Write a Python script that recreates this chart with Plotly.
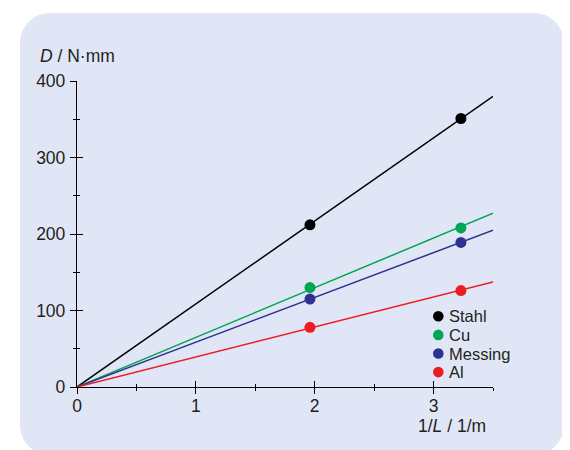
import plotly.graph_objects as go

# ---- data ----
materials = ["Stahl", "Cu", "Messing", "Al"]
colors = ["#000000", "#00A651", "#2E3192", "#ED1C24"]
inv_L = [1.96, 3.23]                 # 1/L in 1/m
D_stahl = [212, 351]                 # D in N·mm
D_cu = [130, 208]
D_messing = [115, 189]
D_al = [78, 126]
series = [D_stahl, D_cu, D_messing, D_al]
x_ticks = [0, 1, 2, 3]
y_ticks = [0, 100, 200, 300, 400]
x_range = [0, 3.5]
y_range = [0, 400]

# ---- geometry (pixels, screen coordinates; page body has an 8px margin) ----
OFF = 8
W, H = 570 - OFF, 450 - OFF
PW, PH = 416, 306
ML, MT = 77 - OFF, 81 - OFF
MR, MB = W - ML - PW, H - MT - PH
FONT = "Liberation Sans, Arial, sans-serif"
TXT = "#231F20"
FS = 17.5
FS_LEG = 16.5


def px(x):
    return (x - OFF - ML) / PW


def py(y):
    return 1 - (y - OFF - MT) / PH


fig = go.Figure()

# fitted lines through the origin
for name, col, ys in zip(materials, colors, series):
    slope = sum(a * b for a, b in zip(inv_L, ys)) / sum(a * a for a in inv_L)
    fig.add_trace(go.Scatter(x=x_range, y=[slope * v for v in x_range], mode="lines",
                             line=dict(color=col, width=1.5), showlegend=False,
                             hoverinfo="skip", cliponaxis=False))
for name, col, ys in zip(materials, colors, series):
    fig.add_trace(go.Scatter(x=inv_L, y=ys, mode="markers", name=name,
                             marker=dict(color=col, size=11), showlegend=False,
                             cliponaxis=False))

# dummy trace for overlay axes (inner tick halves)
fig.add_trace(go.Scatter(x=[None], y=[None], xaxis="x2", yaxis="y2",
                         showlegend=False, hoverinfo="skip"))

common = dict(showgrid=False, zeroline=False, color="#000000")
tk = dict(tickwidth=1.3, tickcolor="#000")
tf = dict(size=FS, color=TXT, family=FONT)
fig.update_layout(
    width=W, height=H,
    margin=dict(l=ML, r=MR, t=MT, b=MB, pad=0),
    paper_bgcolor="white", plot_bgcolor="rgba(0,0,0,0)",
    font=dict(family=FONT, size=FS, color=TXT),
    showlegend=False,
    xaxis=dict(range=x_range, tickvals=x_ticks, showline=True, linecolor="#000",
               linewidth=1.3, ticks="outside", ticklen=6, tickfont=tf, ticklabelstandoff=-3,
               minor=dict(dtick=0.5, tick0=0, ticks="outside", ticklen=3, **tk), **tk, **common),
    yaxis=dict(range=y_range, tickvals=y_ticks, showline=True, linecolor="#000",
               linewidth=1.3, ticks="outside", ticklen=6, tickfont=tf, ticklabelstandoff=1,
               minor=dict(dtick=50, tick0=0, ticks="outside", ticklen=3, **tk), **tk, **common),
    xaxis2=dict(range=x_range, overlaying="x", anchor="y", side="bottom", tickvals=x_ticks,
                ticks="inside", ticklen=6, showline=False, showticklabels=False,
                minor=dict(dtick=0.5, tick0=0, ticks="inside", ticklen=3, **tk), **tk, **common),
    yaxis2=dict(range=y_range, overlaying="y", anchor="x", side="left", tickvals=y_ticks,
                ticks="inside", ticklen=6, showline=False, showticklabels=False,
                minor=dict(dtick=50, tick0=0, ticks="inside", ticklen=3, **tk), **tk, **common),
)

# rounded background panel
L, T, R, B, r = 20, 13, 564, 455, 30
k = 0.5523 * r
pts = [
    ("M", [(L + r, T)]),
    ("L", [(R - r, T)]),
    ("C", [(R - r + k, T), (R, T + r - k), (R, T + r)]),
    ("L", [(R, B - r)]),
    ("C", [(R, B - r + k), (R - r + k, B), (R - r, B)]),
    ("L", [(L + r, B)]),
    ("C", [(L + r - k, B), (L, B - r + k), (L, B - r)]),
    ("L", [(L, T + r)]),
    ("C", [(L, T + r - k), (L + r - k, T), (L + r, T)]),
]
path = " ".join(c + " " + " ".join(f"{px(a):.5f},{py(b):.5f}" for a, b in p) for c, p in pts) + " Z"
fig.add_shape(type="path", path=path, xref="paper", yref="paper", layer="below",
              fillcolor="#E1E6F6", line=dict(width=0))

# legend (dots + labels)
leg_y = [316.3, 334.9, 353.5, 372.1]
for name, col, ly in zip(materials, colors, leg_y):
    fig.add_shape(type="circle", xref="paper", yref="paper",
                  x0=px(438.3 - 5.3), x1=px(438.3 + 5.3), y0=py(ly + 5.3), y1=py(ly - 5.3),
                  fillcolor=col, line=dict(width=0))
    fig.add_annotation(x=px(448), y=py(ly), xref="paper", yref="paper", text=name,
                       showarrow=False, xanchor="left", yanchor="middle", borderpad=0,
                       font=dict(size=FS_LEG, color=TXT, family=FONT))

# axis titles
fig.add_annotation(x=px(38), y=py(56), xref="paper", yref="paper",
                   text="<i>D</i> / N·mm", showarrow=False, xanchor="left", yanchor="middle",
                   font=dict(size=FS, color=TXT, family=FONT))
fig.add_annotation(x=px(488), y=py(426), xref="paper", yref="paper",
                   text="1/<i>L</i> / 1/m", showarrow=False, xanchor="right", yanchor="middle",
                   font=dict(size=FS, color=TXT, family=FONT))

fig.write_html("out.html")
